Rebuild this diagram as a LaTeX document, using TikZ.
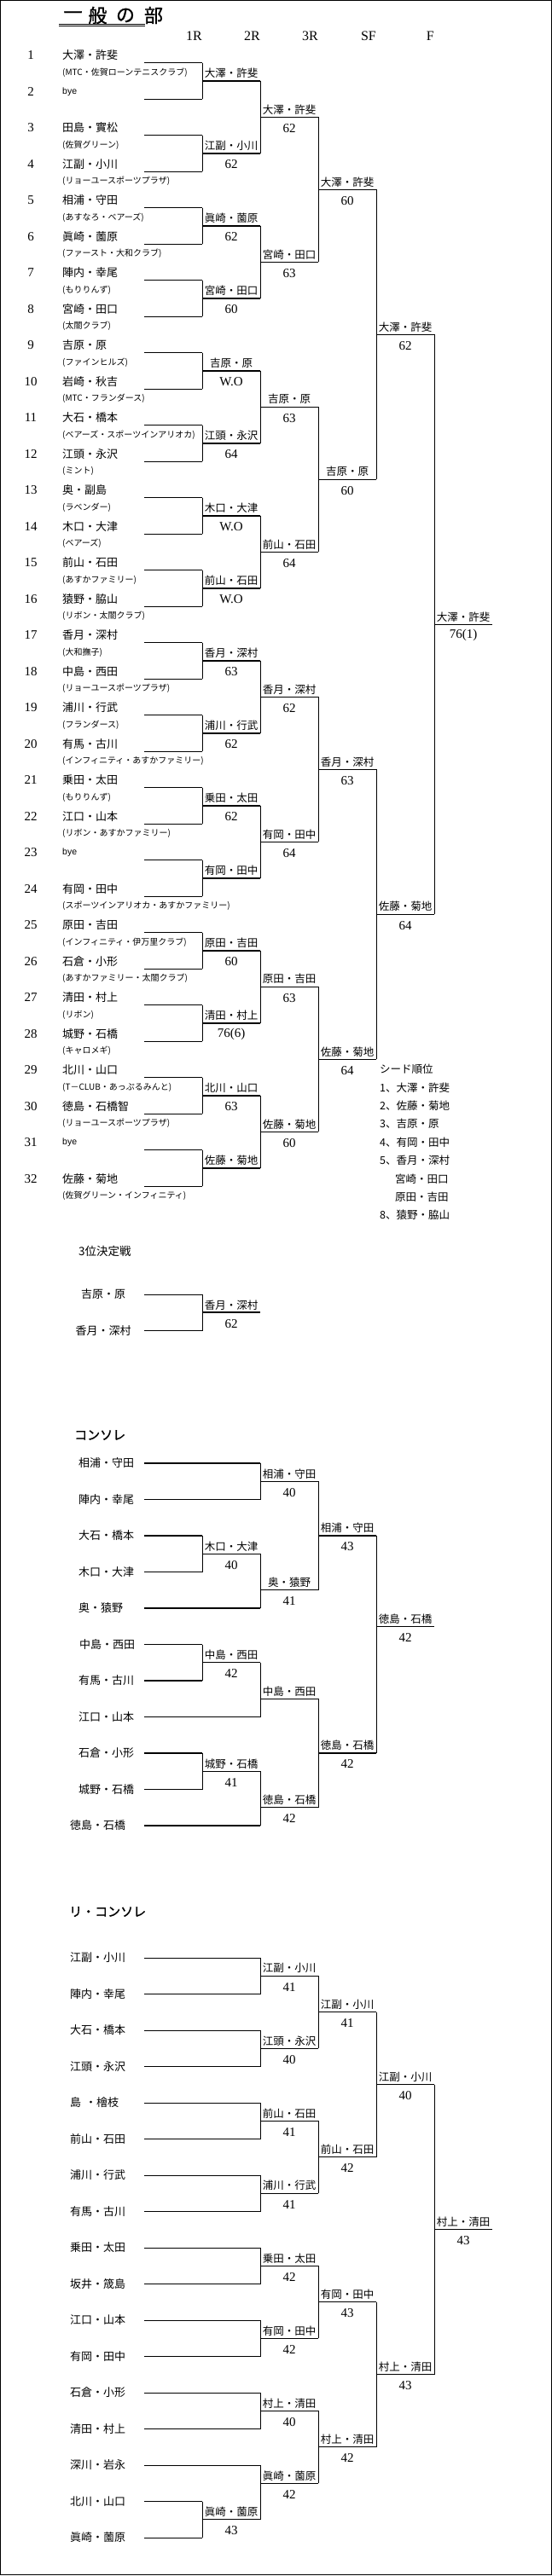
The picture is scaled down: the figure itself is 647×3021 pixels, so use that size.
\documentclass[tikz,border=0pt]{standalone}
\usepackage{fontspec}
\setmainfont{Liberation Serif}
\setsansfont{Liberation Sans}
\newfontfamily\jp{Noto Sans CJK JP}
\newfontfamily\jpb[FakeBold=1.2]{Noto Sans CJK JP}
\newcommand\fs[1]{\fontsize{#1bp}{#1bp}\selectfont}

\tikzset{
  ln/.style={line width=0.8bp},
  lnw/.style={line width=1.7bp},
  pnum/.style={inner sep=0pt, font=\fs{15}},
  pname/.style={anchor=west, inner sep=0pt, font=\jp\fs{13}},
  pmid/.style={inner sep=0pt, font=\jp\fs{13}},
  pteam/.style={anchor=west, inner sep=0pt, font=\jp\fs{10}},
  pbye/.style={anchor=west, inner sep=0pt, font=\sffamily\fs{10.5}},
  wname/.style={inner sep=0pt, font=\jp\fs{12.5}},
  wscore/.style={inner sep=0pt, font=\fs{15}},
  rhead/.style={anchor=east, inner sep=0pt, font=\fs{16}},
  shead/.style={anchor=west, inner sep=0pt, font=\jpb\fs{15}},
  seed/.style={anchor=west, inner sep=0pt, font=\jp\fs{12.5}},
}

% one game: column, first row, second row, winner row, winner, score, line
\newcommand\game[7]{%
  \pgfmathsetmacro\gx{169+68*#1}%
  \draw[ln] (\gx,\yo+#2*21.25) -- (\gx,\yo+#3*21.25);
  \draw[#7] (\gx,\yo+#4*21.25) -- (\gx+68,\yo+#4*21.25);
  \node[wname] (\pre#1-#4) at (\gx+34,\yo+#4*21.25-9) {#5};
  \node[wscore] (\pre s#1-#4) at (\gx+34,\yo+#4*21.25+13) {#6};
}

\begin{document}
\begin{tikzpicture}[x=1bp, y=-1bp]
\useasboundingbox (0,0) rectangle (647,3021);
\draw[ln] (0.5,0.5) rectangle (646.5,3019);

% title
\foreach \c/\x [count=\n] in {一/85.5, 般/114.5, の/147, 部/180}
  \node[inner sep=0pt, font=\jpb\fs{22}] (ttl\n) at (\x,18) {\c};
\draw[ln] (69,28.3) -- (170,28.3);
\draw[ln] (69,30.8) -- (170,30.8);
\foreach \h [count=\n] in {1R,2R,3R,SF,F}
  \node[rhead] (h\n) at (169+68*\n,42) {\h};

% main draw
\def\yo{73.5}
\foreach \i in {1,...,32}
  \draw[ln] (169,{\yo+42.5*(\i-1)}) -- (237,{\yo+42.5*(\i-1)});
\foreach \i/\nm/\tm in {1/大澤・許斐/(MTC・佐賀ローンテニスクラブ),
    3/田島・實松/(佐賀グリーン), 4/江副・小川/(リョーユースポーツプラザ),
    5/相浦・守田/(あすなろ・ベアーズ), 6/眞崎・薗原/(ファースト・大和クラブ),
    7/陣内・幸尾/(もりりんず), 8/宮崎・田口/(太閤クラブ),
    9/吉原・原/(ファインヒルズ), 10/岩崎・秋吉/(MTC・フランダース),
    11/大石・橋本/(ベアーズ・スポーツインアリオカ), 12/江頭・永沢/(ミント),
    13/奥・副島/(ラベンダー), 14/木口・大津/(ベアーズ),
    15/前山・石田/(あすかファミリー), 16/猿野・脇山/(リボン・太閤クラブ),
    17/香月・深村/(大和撫子), 18/中島・西田/(リョーユースポーツプラザ),
    19/浦川・行武/(フランダース), 20/有馬・古川/(インフィニティ・あすかファミリー),
    21/乗田・太田/(もりりんず), 22/江口・山本/(リボン・あすかファミリー),
    24/有岡・田中/(スポーツインアリオカ・あすかファミリー),
    25/原田・吉田/(インフィニティ・伊万里クラブ), 26/石倉・小形/(あすかファミリー・太閤クラブ),
    27/清田・村上/(リボン), 28/城野・石橋/(キャロメギ),
    29/北川・山口/(T－CLUB・あっぷるみんと), 30/徳島・石橋智/(リョーユースポーツプラザ),
    32/佐藤・菊地/(佐賀グリーン・インフィニティ)}{
  \node[pnum] (n\i) at (36,{\yo-8.5+42.5*(\i-1)}) {\i};
  \node[pname] (p\i) at (73,{\yo-8.5+42.5*(\i-1)}) {\nm};
  \node[pteam] (t\i) at (73,{\yo+11.5+42.5*(\i-1)}) {\tm};
}
\foreach \i in {2,23,31}{
  \node[pnum] (n\i) at (36,{\yo-8.5+42.5*(\i-1)}) {\i};
  \node[pbye] (p\i) at (73,{\yo-8.5+42.5*(\i-1)}) {bye};
}
\foreach \r/\k/\w/\s/\st in {1/1/大澤・許斐/{}/lnw, 1/2/江副・小川/62/lnw,
    1/3/眞崎・薗原/62/lnw, 1/4/宮崎・田口/60/lnw, 1/5/吉原・原/W.O/lnw,
    1/6/江頭・永沢/64/lnw, 1/7/木口・大津/W.O/lnw, 1/8/前山・石田/W.O/lnw,
    1/9/香月・深村/63/lnw, 1/10/浦川・行武/62/lnw, 1/11/乗田・太田/62/lnw,
    1/12/有岡・田中/{}/lnw, 1/13/原田・吉田/60/lnw, 1/14/清田・村上/76(6)/lnw,
    1/15/北川・山口/63/lnw, 1/16/佐藤・菊地/{}/lnw,
    2/1/大澤・許斐/62/ln, 2/2/宮崎・田口/63/ln, 2/3/吉原・原/63/ln, 2/4/前山・石田/64/ln,
    2/5/香月・深村/62/ln, 2/6/有岡・田中/64/ln, 2/7/原田・吉田/63/ln, 2/8/佐藤・菊地/60/ln,
    3/1/大澤・許斐/60/ln, 3/2/吉原・原/60/ln, 3/3/香月・深村/63/ln, 3/4/佐藤・菊地/64/ln,
    4/1/大澤・許斐/62/ln, 4/2/佐藤・菊地/64/ln,
    5/1/大澤・許斐/76(1)/ln}{
  \pgfmathsetmacro\gx{169+68*\r}
  \pgfmathsetmacro\gy{\yo+42.5*((\k-1)*2^\r+(2^\r-1)/2)}
  \pgfmathsetmacro\gd{42.5*2^(\r-2)}
  \draw[ln] (\gx,\gy-\gd) -- (\gx,\gy+\gd);
  \draw[\st] (\gx,\gy) -- (\gx+68,\gy);
  \node[wname] (w\r-\k) at (\gx+34,\gy-9) {\w};
  \node[wscore] (s\r-\k) at (\gx+34,\gy+13) {\s};
}

% seeds
\foreach \x/\y/\t [count=\n] in {445/1254/シード順位, 445/1276/1、大澤・許斐,
    445/1297/2、佐藤・菊地, 445/1318/3、吉原・原, 445/1340/4、有岡・田中,
    445/1361/5、香月・深村, 463/1383/宮崎・田口, 463/1404/原田・吉田,
    445/1425/8、猿野・脇山}
  \node[seed] (sd\n) at (\x,\y) {\t};

% third place
\node[anchor=west, inner sep=0pt, font=\jp\fs{13.5}] (tp) at (92,1467) {3位決定戦};
\def\yo{1518}\def\pre{d}
\foreach \q/\nm in {0/吉原・原, 2/香月・深村}{
  \node[pmid] (d\q) at (121,\yo+\q*21.25) {\nm};
  \draw[ln] (169,\yo+\q*21.25) -- (237,\yo+\q*21.25);
}
\game{1}{0}{2}{1}{香月・深村}{62}{lnw}

% consolation
\node[shead] (cs) at (87,1683) {コンソレ};
\def\yo{1716}\def\pre{c}
\foreach \q/\nm/\x/\len/\st in {0/相浦・守田/92/2/lnw, 2/陣内・幸尾/92/2/ln,
    4/大石・橋本/92/1/lnw, 6/木口・大津/92/1/ln, 8/奥・猿野/92/2/lnw,
    10/中島・西田/93/1/ln, 12/有馬・古川/92/1/lnw, 14/江口・山本/92/2/ln,
    16/石倉・小形/92/1/lnw, 18/城野・石橋/92/1/ln, 20/徳島・石橋/82/2/lnw}{
  \node[pname] (c\q) at (\x,\yo+\q*21.25) {\nm};
  \draw[\st] (169,\yo+\q*21.25) -- (169+68*\len,\yo+\q*21.25);
}
\foreach \c/\a/\b/\w/\nm/\s/\st in {2/0/2/1/相浦・守田/40/ln, 1/4/6/5/木口・大津/40/ln,
    2/5/8/7/奥・猿野/41/ln, 3/1/7/4/相浦・守田/43/lnw, 1/10/12/11/中島・西田/42/ln,
    2/11/14/13/中島・西田/{}/ln, 1/16/18/17/城野・石橋/41/ln, 2/17/20/19/徳島・石橋/42/ln,
    3/13/19/16/徳島・石橋/42/lnw, 4/4/16/9/徳島・石橋/42/ln}
  \game{\c}{\a}{\b}{\w}{\nm}{\s}{\st};

% re-consolation
\node[shead] (rcs) at (81,2242) {リ・コンソレ};
\def\yo{2296}\def\pre{r}
\foreach \q/\nm/\len/\st in {0/江副・小川/2/ln, 2/陣内・幸尾/2/lnw, 4/大石・橋本/2/ln,
    6/江頭・永沢/2/lnw, 8/島\hspace{5bp}・檜枝/2/ln, 10/前山・石田/2/lnw,
    12/浦川・行武/2/ln, 14/有馬・古川/2/lnw, 16/乗田・太田/2/ln, 18/坂井・筬島/2/lnw,
    20/江口・山本/2/ln, 22/有岡・田中/2/lnw, 24/石倉・小形/2/ln, 26/清田・村上/2/lnw,
    28/深川・岩永/2/ln, 30/北川・山口/1/lnw, 32/眞崎・薗原/1/ln}{
  \node[pname] (r\q) at (82,\yo+\q*21.25) {\nm};
  \draw[\st] (169,\yo+\q*21.25) -- (169+68*\len,\yo+\q*21.25);
}
\foreach \c/\a/\b/\w/\nm/\s in {2/0/2/1/江副・小川/41, 2/4/6/5/江頭・永沢/40,
    3/1/5/3/江副・小川/41, 2/8/10/9/前山・石田/41, 2/12/14/13/浦川・行武/41,
    3/9/13/11/前山・石田/42, 4/3/11/7/江副・小川/40, 2/16/18/17/乗田・太田/42,
    2/20/22/21/有岡・田中/42, 3/17/21/19/有岡・田中/43, 2/24/26/25/村上・清田/40,
    1/30/32/31/眞崎・薗原/43, 2/28/31/29/眞崎・薗原/42, 3/25/29/27/村上・清田/42,
    4/19/27/23/村上・清田/43, 5/7/23/15/村上・清田/43}
  \game{\c}{\a}{\b}{\w}{\nm}{\s}{ln};
\end{tikzpicture}
\end{document}
